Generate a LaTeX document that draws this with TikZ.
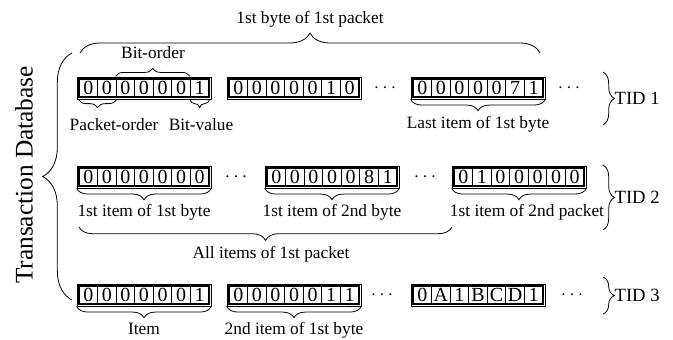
\documentclass[tikz,border=0pt]{standalone}
\usepackage{fontspec}
\setmainfont{Liberation Serif}
\usetikzlibrary{positioning, fit, decorations.pathreplacing}

% one byte group: seven cells in a thin frame
\newcommand{\bytegroup}[4]{%
  \foreach \d [count=\i] in {#4}
    \node[cell] (#1-\i) at ({#2+(\i-0.5)*18.57}, #3) {\d};
  \node[frame, fit=(#1-1)(#1-7)] (#1) {};
}

\begin{document}
\begin{tikzpicture}[
        x=0.75pt, y=-0.75pt,
        node distance=10pt,
        cell/.style={draw, line width=0.9pt, minimum width=13.9pt, minimum height=13.5pt, inner sep=0pt, font=\fontsize{15}{15}\selectfont},
        frame/.style={draw, line width=0.5pt, inner sep=1.1pt},
        brc/.style={decorate, decoration={brace, amplitude=#1}, line width=0.6pt},
        brc/.default=8.5pt,
        lbl/.style={font=\fontsize{13}{15}\selectfont, inner sep=1pt},
        dots/.style={font=\fontsize{14}{14}\selectfont, inner sep=0pt},
        tid/.style={font=\fontsize{14}{16}\selectfont, anchor=west, inner sep=1pt}
    ]
        \useasboundingbox (0,0) rectangle (673,339);

        % Byte groups
        \bytegroup{r1a}{79}{88}{0,0,0,0,0,0,1}
        \bytegroup{r1b}{229}{88}{0,0,0,0,0,1,0}
        \bytegroup{r1c}{413}{88}{0,0,0,0,0,7,1}
        \bytegroup{r2a}{79}{177}{0,0,0,0,0,0,0}
        \bytegroup{r2b}{267}{177}{0,0,0,0,0,8,1}
        \bytegroup{r2c}{454}{177}{0,1,0,0,0,0,0}
        \bytegroup{r3a}{79}{295}{0,0,0,0,0,0,1}
        \bytegroup{r3b}{229}{295}{0,0,0,0,0,1,1}
        \bytegroup{r3c}{413}{295}{0,A,1,B,C,D,1}

        % Dots
        \node[dots] (d11) at (385,88) {$\cdots$};
        \node[dots] (d12) at (569,88) {$\cdots$};
        \node[dots] (d21) at (236,177) {$\cdots$};
        \node[dots] (d22) at (425,177) {$\cdots$};
        \node[dots] (d31) at (382,295) {$\cdots$};
        \node[dots] (d32) at (572,295) {$\cdots$};

        % Top brace
        \coordinate (topL) at (80,53);
        \coordinate (topR) at (540,53);
        \draw[brc=15pt] (topL) -- (topR);
        \node[lbl] (toplbl) at (310,19) {1st byte of 1st packet};

        % Row 1 braces
        \draw[brc=6pt] ([yshift=1.5pt]r1a-3.north west) -- ([yshift=1.5pt]r1a-7.north west);
        \node[lbl] (bitorder) at (153,53) {Bit-order};
        \draw[brc=6pt] ([yshift=-1.5pt]r1a-2.south east) -- ([yshift=-1.5pt]r1a-1.south west);
        \node[lbl] (pktorder) at (114,125) {Packet-order};
        \draw[brc=6pt] ([yshift=-1.5pt]r1a-7.south east) -- ([yshift=-1.5pt]r1a-7.south west);
        \node[lbl] (bitvalue) at (201,125) {Bit-value};
        \draw[brc] (r1c.south east) -- (r1c.south west);
        \node[lbl] (lastitem) at (478,124) {Last item of 1st byte};

        % Row 2 braces
        \draw[brc] (r2a.south east) -- (r2a.south west);
        \node[lbl, below=11pt of r2a] (first11) {1st item of 1st byte};
        \draw[brc] (r2b.south east) -- (r2b.south west);
        \node[lbl, below=11pt of r2b] (first12) {1st item of 2nd byte};
        \draw[brc] (r2c.south east) -- (r2c.south west);
        \node[lbl, below=11pt of r2c, xshift=6pt] (first21) {1st item of 2nd packet};
        \coordinate (allL) at (79,227);
        \coordinate (allR) at (452,227);
        \draw[brc=10pt] (allR) -- (allL);
        \node[lbl] (allitems) at (271,254) {All items of 1st packet};

        % Row 3 braces
        \draw[brc] (r3a.south east) -- (r3a.south west);
        \node[lbl, below=11pt of r3a] (item) {Item};
        \draw[brc] (r3b.south east) -- (r3b.south west);
        \node[lbl, below=11pt of r3b] (second11) {2nd item of 1st byte};

        % Transaction braces
        \coordinate (t1a) at (603,72);
        \coordinate (t1b) at (603,125);
        \draw[brc] (t1a) -- (t1b);
        \node[tid] (tid1) at (613,98) {TID 1};
        \coordinate (t2a) at (603,165);
        \coordinate (t2b) at (603,230);
        \draw[brc] (t2a) -- (t2b);
        \node[tid] (tid2) at (613,197) {TID 2};
        \coordinate (t3a) at (603,277);
        \coordinate (t3b) at (603,314);
        \draw[brc] (t3a) -- (t3b);
        \node[tid] (tid3) at (613,295) {TID 3};

        % Database brace
        \coordinate (dbB) at (72,300);
        \coordinate (dbT) at (72,53);
        \draw[brc=22pt] (dbB) -- (dbT);
        \node[rotate=90, font=\fontsize{19}{19}\selectfont] (db) at (24,175) {Transaction Database};
    \end{tikzpicture}
\end{document}
